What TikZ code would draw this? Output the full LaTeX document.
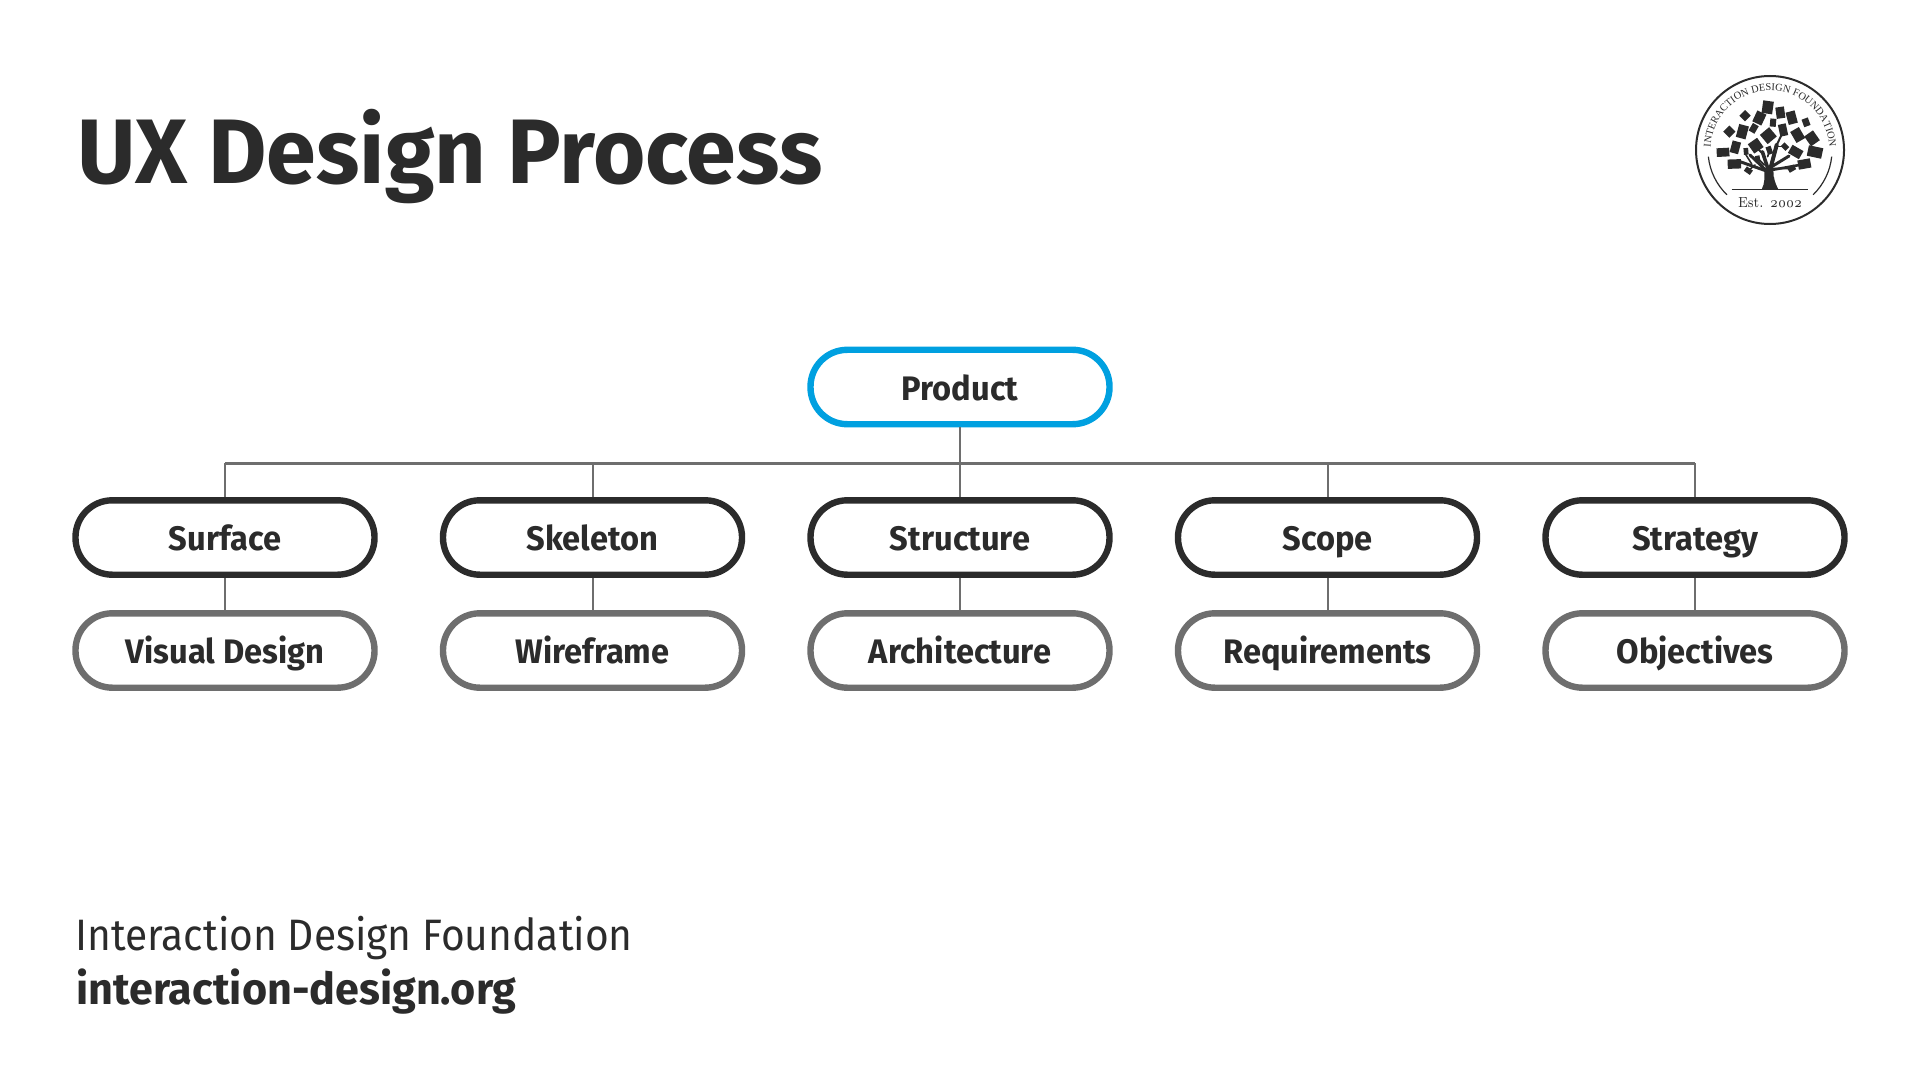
\documentclass[tikz,border=0pt]{standalone}
\usepackage{fontspec}
\usepackage{tikz}
\usetikzlibrary{decorations.text}
\newfontfamily\idfsans[FakeStretch=0.98]{Fira Sans}
\newfontfamily\idflabel[FakeStretch=0.96]{Fira Sans}
\newfontfamily\idflight[FakeStretch=0.925]{Fira Sans}
\newfontfamily\idfserif{Liberation Serif}
\newfontfamily\idfyear[Numbers=OldStyle,FakeStretch=0.88]{Latin Modern Roman}
\definecolor{ink}{HTML}{2B2B2B}
\definecolor{ash}{HTML}{6E6E6E}
\definecolor{sky}{HTML}{00A0E0}
\tikzset{
  pill/.style={rectangle,draw=ink,fill=white,line width=3.2pt,rounded corners=18.4pt,
    minimum width=149.5pt,minimum height=37.2pt,inner sep=0pt,text=ink,
    font=\idflabel\bfseries\fontsize{17}{20}\selectfont,text height=13.2pt,text depth=0pt},
  stage/.style={pill},
  goal/.style={pill,draw=ash},
  top/.style={pill,draw=sky},
  wire/.style={draw=ash,line width=1pt},
  bus/.style={draw=ash,line width=1.5pt},
  branch/.style={draw=ink,line cap=round}
}
\begin{document}
\begin{tikzpicture}[x=0.5pt,y=-0.5pt,node distance=183.75pt]
  \useasboundingbox (0,0) rectangle (1920,1080);
  \node[anchor=base west,inner sep=0pt,text=ink,font=\idfsans\bfseries\fontsize{45.8}{54}\selectfont] (title) at (77,184) {UX Design Process};

  \node[stage] (surface) at (225,537.5) {Surface};
  \node[stage] (skeleton) [right of=surface] {Skeleton};
  \node[stage] (structure) [right of=skeleton] {Structure};
  \node[stage] (scope) [right of=structure] {Scope};
  \node[stage] (strategy) [right of=scope] {Strategy};

  \node[top] (product) [above of=structure,node distance=75.25pt] {Product};

  \node[goal] (visual) [below of=surface,node distance=56.5pt] {Visual Design};
  \node[goal] (wireframe) [below of=skeleton,node distance=56.5pt] {Wireframe};
  \node[goal] (architecture) [below of=structure,node distance=56.5pt] {Architecture};
  \node[goal] (requirements) [below of=scope,node distance=56.5pt] {Requirements};
  \node[goal] (objectives) [below of=strategy,node distance=56.5pt] {Objectives};

  \coordinate (busl) at (225,463);
  \coordinate (busr) at (1695,463);
  \path[bus] (busl) edge (busr);
  \path[wire] (product) edge (structure)
        (busl) edge (surface)
        (busr) edge (strategy)
        (skeleton |- busl) edge (skeleton)
        (scope |- busl) edge (scope)
        (surface) edge (visual)
        (skeleton) edge (wireframe)
        (structure) edge (architecture)
        (scope) edge (requirements)
        (strategy) edge (objectives);

  \node[anchor=base west,inner sep=0pt,text=ink,font=\idflight\fontsize{22}{26}\selectfont] (org) at (75,950) {Interaction Design Foundation};
  \node[anchor=base west,inner sep=0pt,text=ink,font=\idfsans\bfseries\fontsize{22}{26}\selectfont] (site) at (76,1004) {interaction-design.org};

  % logo ring
  \begin{scope}[shift={(1660,50)},x=0.16667pt,y=-0.16667pt]
    \coordinate (hub) at (330,300);
    \draw[ink,line width=1pt] (hub) circle[radius=222];
    \draw[ink,line width=0.6pt] (145,320) arc[start angle=174,end angle=134,radius=186];
    \draw[ink,line width=0.6pt] (515,320) arc[start angle=6,end angle=46,radius=186];
    \draw[ink,line width=0.6pt] (215,418) -- (445,418);
    \path[postaction={decorate,decoration={text along path,text align=center,
      text={|\idfserif\fontsize{5.2}{6}\selectfont\color{ink}|INTERACTION DESIGN FOUNDATION}}}]
      (152,306) arc[start angle=178,end angle=362,radius=178];
    \node[text=ink,inner sep=0pt,font=\idfyear\fontsize{7.3}{10}\selectfont] (est) at (330,458) {Est. 2002};
  \end{scope}

  % tree
  \begin{scope}[shift={(1705,90)},x=0.16667pt,y=-0.16667pt]
    \fill[ink] (170,298) .. controls (180,280) and (178,262) .. (178,240) -- (205,240) .. controls (205,262) and (210,280) .. (220,298) -- cycle;
    \fill[white] (208,258) circle[radius=3];
    \foreach \a/\b/\c/\d/\w in {190/245/105/215/1.5, 182/240/135/195/1.5, 178/225/160/208/1, 190/240/172/185/1.8,
        195/240/215/165/2, 215/165/232/130/1, 200/240/300/222/1.3, 200/230/252/198/1.5, 198/235/260/236/.8,
        150/225/130/242/.8, 215/170/240/170/.7, 188/200/193/181/.8, 120/190/140/222/.8, 172/190/152/170/1}
      \draw[branch,line width=\w pt] (\a,\b) -- (\c,\d);
    \foreach \x/\y/\w/\h/\r in {188/52/32/38/-8, 226/68/26/34/8, 260/83/28/38/15, 163/84/30/36/-25, 120/77/24/24/45,
        303/97/20/24/20, 204/98/18/24/-5, 112/125/30/40/-15, 146/115/20/26/-30, 73/125/26/26/45,
        190/137/36/36/40, 234/120/24/36/12, 278/135/30/38/30, 321/145/32/36/35, 91/172/26/36/-15,
        152/167/34/34/35, 54/187/38/26/3, 272/186/38/28/-30, 330/186/44/32/-12, 240/170/16/20/45,
        193/181/16/24/20, 123/184/14/20/5, 158/206/14/18/10, 88/222/40/28/2, 298/222/38/28/10,
        130/242/22/16/-35, 260/236/22/16/30}
      \fill[ink,rotate around={\r:(\x,\y)}] (\x-\w/2,\y-\h/2) rectangle (\x+\w/2,\y+\h/2);
  \end{scope}
\end{tikzpicture}
\end{document}
